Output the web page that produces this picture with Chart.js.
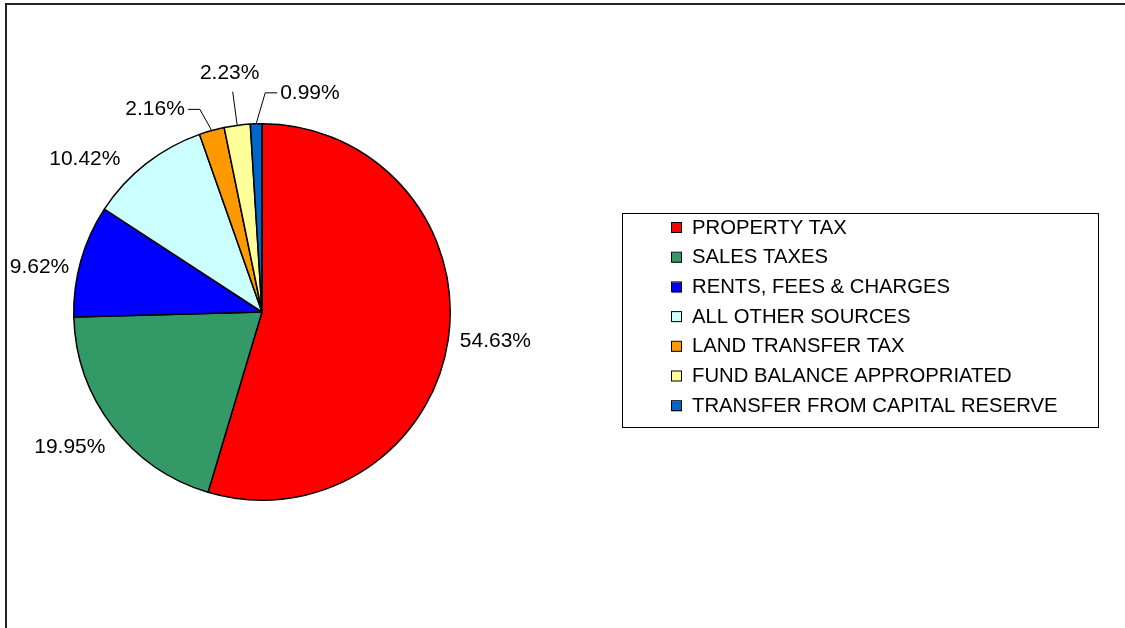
<!DOCTYPE html>
<html>
<head>
<meta charset="utf-8">
<script src="https://cdn.jsdelivr.net/npm/chart.js@4"></script>
<style>
  html, body { margin: 0; padding: 0; background: #fff; }
  #wrap { position: relative; width: 1125px; height: 628px; overflow: hidden; }
  #frame { position: absolute; left: 5px; top: 3px; width: 1200px; height: 700px;
           border-left: 2px solid #222; border-top: 2px solid #222; }
  canvas { position: absolute; left: 0; top: 0; }
</style>
</head>
<body>
<div id="wrap">
  <div id="frame"></div>
  <canvas id="grafico" width="1125" height="628"></canvas>
</div>
<script>
// Dados do gráfico
const categorias = ['PROPERTY TAX', 'SALES TAXES', 'RENTS, FEES & CHARGES', 'ALL OTHER SOURCES',
                    'LAND TRANSFER TAX', 'FUND BALANCE APPROPRIATED', 'TRANSFER FROM CAPITAL RESERVE'];
const percentuais = [54.63, 19.95, 9.62, 10.42, 2.16, 2.23, 0.99];
const cores = ['#FF0000', '#339966', '#0000FF', '#CCFFFF', '#FF9900', '#FFFF99', '#0066CC'];

// ajustes de posição dos rótulos (estilo, não dados)
const ajusteRotulo = [[4, 0], [-8, 11], [-5, 11], [-34, 8], null, null, null];
const chamada = [null, null, null, null, 'left', 'up', 'right'];

const fonteRotulo = '21px "Liberation Sans", Arial, sans-serif';
const fonteLegenda = '20.3px "Liberation Sans", Arial, sans-serif';

const rotulosPlugin = {
    id: 'rotulos',
    afterDatasetsDraw(chart) {
        const ctx = chart.ctx;
        const arcs = chart.getDatasetMeta(0).data;
        ctx.save();
        ctx.font = fonteRotulo;
        ctx.fillStyle = '#000';
        ctx.strokeStyle = '#000';
        ctx.lineWidth = 1;
        arcs.forEach((arc, i) => {
            const p = arc.getProps(['x', 'y', 'startAngle', 'endAngle', 'outerRadius'], true);
            const a = (p.startAngle + p.endAngle) / 2;
            const c = Math.cos(a), s = Math.sin(a);
            const r = p.outerRadius;
            const txt = percentuais[i].toFixed(2) + '%';
            const w = ctx.measureText(txt).width;
            if (chamada[i]) {
                const ex = p.x + r * c, ey = p.y + r * s;
                ctx.beginPath();
                ctx.moveTo(ex, ey);
                if (chamada[i] === 'up') {
                    const bx = p.x + (r + 34) * c, by = p.y + (r + 34) * s;
                    ctx.lineTo(bx, by);
                    ctx.stroke();
                    ctx.textAlign = 'center';
                    ctx.textBaseline = 'bottom';
                    ctx.fillText(txt, bx - 3, by - 8);
                } else {
                    const dir = chamada[i] === 'left' ? -1 : 1;
                    const rr = chamada[i] === 'left' ? r + 22 : r + 31;
                    const bx = p.x + rr * c + (dir < 0 ? -6 : 10), by = p.y + rr * s;
                    ctx.lineTo(bx, by);
                    ctx.lineTo(bx + dir * 12, by);
                    ctx.stroke();
                    ctx.textAlign = dir < 0 ? 'right' : 'left';
                    ctx.textBaseline = 'middle';
                    ctx.fillText(txt, bx + dir * 15, by);
                }
            } else {
                const ax = p.x + (r + 8) * c, ay = p.y + (r + 8) * s;
                const aj = ajusteRotulo[i];
                ctx.textAlign = 'center';
                ctx.textBaseline = 'middle';
                ctx.fillText(txt, ax + c * w / 2 + aj[0], ay + s * 8 + aj[1]);
            }
        });
        ctx.restore();
    }
};

const legendaPlugin = {
    id: 'legendaCaixa',
    afterDraw(chart) {
        const ctx = chart.ctx;
        ctx.save();
        ctx.strokeStyle = '#000';
        ctx.lineWidth = 1;
        ctx.strokeRect(622.5, 213.5, 476, 214);
        ctx.font = fonteLegenda;
        ctx.textAlign = 'left';
        ctx.textBaseline = 'middle';
        categorias.forEach((nome, i) => {
            const y = 228 + i * 29.7;
            ctx.fillStyle = cores[i];
            ctx.fillRect(672, y - 5, 10, 10);
            ctx.strokeRect(671.5, y - 5.5, 10, 10);
            ctx.fillStyle = '#000';
            ctx.fillText(nome, 692, y);
        });
        ctx.restore();
    }
};

window.onload = function() {
    const ctx = document.getElementById('grafico').getContext('2d');
    new Chart(ctx, {
        type: 'pie',
        data: {
            labels: categorias,
            datasets: [{
                data: percentuais,
                backgroundColor: cores,
                borderColor: '#000',
                borderWidth: 1.5,
                hoverOffset: 0
            }]
        },
        options: {
            responsive: false,
            animation: false,
            events: [],
            layout: { padding: { left: 73, top: 123, right: 674, bottom: 127 } },
            plugins: {
                legend: { display: false },
                tooltip: { enabled: false }
            }
        },
        plugins: [rotulosPlugin, legendaPlugin]
    });
};
</script>
</body>
</html>
